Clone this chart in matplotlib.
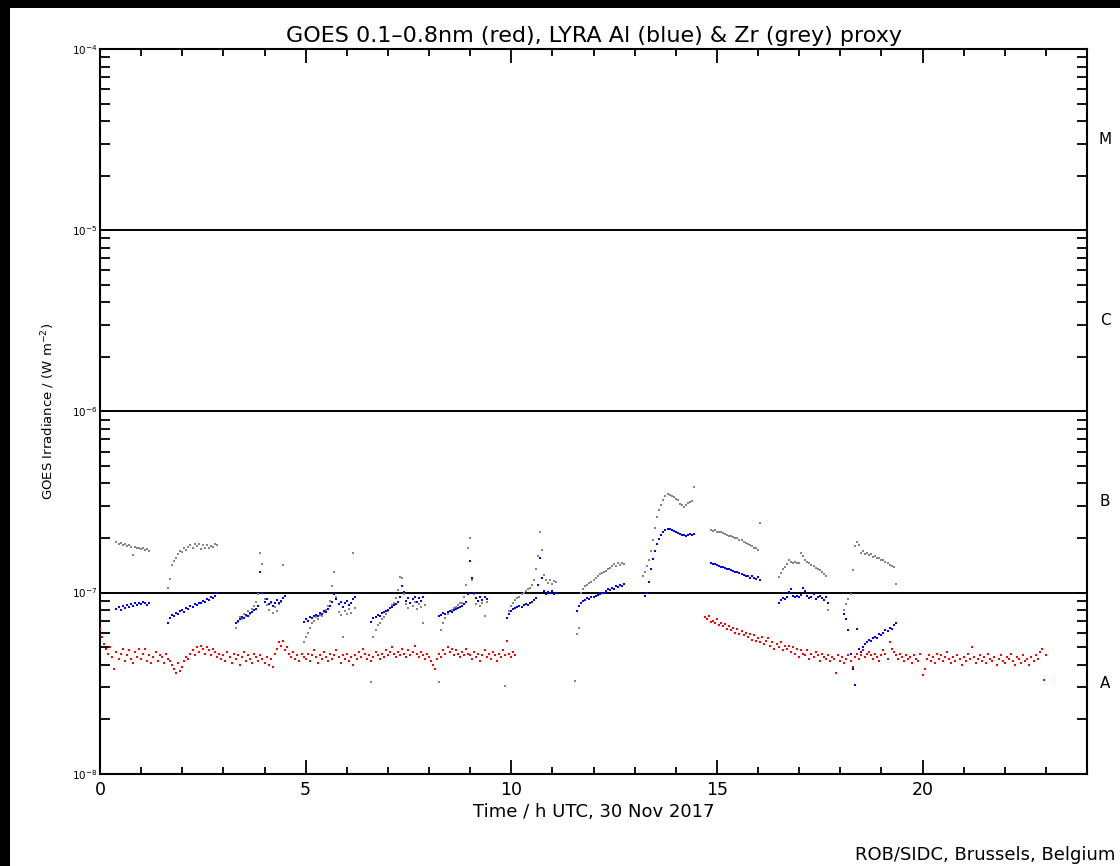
import numpy as np
import matplotlib
matplotlib.use("Agg")
import matplotlib.pyplot as plt
from matplotlib.patches import Rectangle
from matplotlib.ticker import LogLocator, NullFormatter, MultipleLocator

# ---------------- data (irradiance in units of 1e-8 W m^-2) ----------------
STEP = 0.05

# GOES 0.1-0.8 nm (red)
red1_start = 0.00
red1_vals = [
    6.3, 5.7, 5.2, 4.9, 4.6, 5.0, 4.4, 3.8, 4.7, 4.3, 4.6, 4.9, 4.2, 4.5, 4.8, 4.3, 4.1, 4.7, 4.4, 4.9,
    4.3, 4.6, 4.9, 4.2, 4.5, 4.1, 4.4, 4.7, 4.2, 4.5, 4.4, 4.1, 4.6, 4.3, 4.2, 4.0, 3.8, 3.6, 4.1, 3.7,
    3.9, 4.2, 4.4, 4.3, 4.6, 4.8, 4.5, 5.0, 4.7, 5.1, 4.9, 4.6, 5.0, 4.8, 4.5, 4.9, 4.7, 4.4, 4.6, 4.3,
    4.5, 4.2, 4.7, 4.4, 4.1, 4.6, 4.3, 4.5, 4.0, 4.4, 4.7, 4.2, 4.5, 4.3, 4.1, 4.6, 4.4, 4.2, 4.5, 4.3,
    4.1, 4.4, 4.0, 4.3, 3.9, 4.6, 4.9, 5.3, 5.1, 5.4, 4.8, 5.0, 4.6, 4.4, 4.7, 4.3, 4.5, 4.2, 4.6, 4.4,
    4.3, 4.6, 4.2, 4.5, 4.8, 4.4, 4.1, 4.5, 4.3, 4.7, 4.4, 4.2, 4.6, 4.3, 4.5, 4.8, 4.4, 4.1, 4.5, 4.3,
    4.6, 4.2, 4.4, 4.0, 4.5, 4.3, 4.7, 4.4, 4.9, 4.6, 4.3, 4.5, 4.2, 4.4, 4.7, 4.5, 4.3, 4.6, 4.4, 4.8,
    4.5, 4.7, 5.0, 4.6, 4.4, 4.7, 4.5, 4.9, 4.6, 4.4, 4.8, 4.5, 4.7, 5.1, 4.6, 4.4, 4.7, 4.5, 4.3, 4.6,
    4.4, 4.2, 4.0, 3.8, 4.3, 4.6, 4.4, 4.8, 4.6, 5.0, 4.7, 4.9, 4.5, 4.8, 4.6, 4.4, 4.7, 4.5, 4.9, 4.6,
    4.5, 4.3, 4.7, 4.4, 4.6, 4.2, 4.5, 4.8, 4.4, 4.6, 4.3, 4.7, 4.5, 4.2, 4.6, 4.4, 4.8, 4.5, 5.4, 4.6,
    4.4, 4.7, 4.5,
]
red2_start = 14.70
red2_vals = [
    7.3, 7.1, 7.4, 6.9, 7.0, 6.8, 7.1, 6.6, 6.8, 6.5, 6.7, 6.3, 6.5, 6.2, 6.4, 6.0, 6.3, 5.9, 6.1, 5.8,
    6.0, 5.7, 5.9, 5.5, 5.8, 5.4, 5.6, 5.3, 5.7, 5.2, 5.4, 5.6, 5.1, 5.3, 4.9, 5.2, 5.0, 5.3, 4.8, 5.1,
    4.9, 5.1, 4.7, 5.0, 4.6, 4.9, 4.4, 4.8, 4.6, 4.5, 4.8, 4.3, 4.6, 4.4, 4.7, 4.5, 4.2, 4.6, 4.4, 4.3,
    4.5, 4.2, 4.4, 4.3, 3.6, 4.5, 4.2, 4.4, 4.1, 4.3, 4.5, 4.2, 3.9, 4.4, 4.6, 4.3, 4.5, 4.8, 4.4, 4.6,
    4.7, 4.5, 4.3, 4.6, 4.4, 4.2, 4.5, 4.8, 4.6, 4.3, 5.3, 4.9, 4.7, 4.5, 4.3, 4.6, 4.4, 4.2, 4.5, 4.3,
    4.4, 4.1, 4.5, 4.3, 4.2, 4.6, 3.5, 3.8, 4.3, 4.5, 4.2, 4.4, 4.1, 4.6, 4.3, 4.5, 4.2, 4.4, 4.7, 4.3,
    4.1, 4.4, 4.2, 4.5, 4.3, 4.0, 4.4, 4.2, 4.6, 4.3, 5.0, 4.4, 4.1, 4.3, 4.5, 4.2, 4.4, 4.1, 4.6, 4.3,
    4.2, 4.4, 4.0, 4.3, 4.5, 4.2, 4.1, 4.4, 4.3, 4.6, 4.2, 4.0, 4.4, 4.3, 4.1, 4.5, 4.2, 4.3, 4.0, 4.4,
    4.2, 4.5, 4.3, 4.7, 4.9, 3.3, 4.5,
]

# LYRA Al proxy (blue): segment start times and values
blue_starts = [0.40, 1.65, 3.30, 4.95, 6.60, 8.25, 9.90, 11.60, 13.25, 14.85, 16.50, 18.10, 18.40]
blue_vals = [
    [8.1, 8.3, 8.0, 8.4, 8.2, 8.5, 8.3, 8.6, 8.4, 8.7, 8.5, 8.8, 8.6, 8.9, 8.7, 8.5, 8.8],
    [6.8, 7.2, 7.5, 7.4, 7.7, 7.6, 7.9, 8.0, 7.8, 8.2, 8.1, 8.4, 8.3, 8.6, 8.5, 8.8, 8.7, 9.0, 8.9, 9.2,
     9.1, 9.4, 9.3, 9.6, 9.9],
    [6.8, 7.0, 7.1, 7.3, 7.2, 7.5, 7.4, 7.7, 7.8, 8.0, 8.1, 8.4, 12.9, 10.0, 8.9, 9.2, 8.6, 8.9, 8.4, 8.8,
     9.1, 8.7, 9.0, 9.3, 9.6],
    [6.9, 7.1, 7.0, 7.3, 7.2, 7.4, 7.5, 7.4, 7.7, 7.6, 7.9, 7.8, 8.1, 8.4, 8.9, 9.8, 9.2, 8.6, 8.9, 8.3,
     8.7, 9.0, 8.5, 8.8, 9.2, 9.4],
    [6.9, 7.2, 7.3, 7.5, 7.4, 7.7, 7.8, 7.9, 8.0, 8.2, 8.3, 8.5, 8.6, 8.9, 9.5, 10.8, 10.1, 9.0, 9.3, 8.8,
     9.2, 9.5, 8.9, 9.3, 9.0, 9.4],
    [7.4, 7.5, 7.7, 7.6, 7.8, 7.9, 7.8, 8.0, 8.1, 8.2, 8.3, 8.4, 8.6, 8.9, 9.8, 14.9, 12.0, 10.0, 9.3, 9.0,
     9.4, 9.1, 9.5, 9.2],
    [7.2, 7.6, 7.9, 8.1, 8.2, 8.3, 8.4, 8.3, 8.5, 8.6, 8.5, 8.8, 8.9, 9.1, 9.3, 11.0, 15.6, 12.1, 10.2, 9.8,
     10.1, 9.9, 10.2, 9.8, 10.0],
    [7.9, 8.4, 8.8, 9.0, 9.1, 9.3, 9.2, 9.4, 9.5, 9.6, 9.7, 9.8, 9.9, 10.0, 10.2, 10.4, 10.3, 10.6, 10.5, 10.8,
     10.7, 11.0, 10.9, 11.2],
    [9.6, 9.9, 11.5, 13.5, 15.3, 17.0, 18.6, 19.8, 20.8, 21.5, 22.1, 22.4, 22.5, 22.2, 21.9, 21.6, 21.3, 21.0,
     20.7, 20.9, 20.6, 20.8, 21.0, 20.7, 21.1],
    [14.6, 14.4, 14.3, 14.2, 14.0, 13.9, 13.8, 13.6, 13.5, 13.4, 13.3, 13.1, 13.0, 12.9, 12.8, 12.6, 12.5,
     12.4, 12.3, 12.1, 12.3, 12.0, 11.9, 12.2, 11.8],
    [8.8, 9.1, 9.3, 9.2, 9.4, 10.1, 10.4, 9.6, 9.5, 9.6, 9.5, 9.7, 10.6, 10.2, 9.6, 9.3, 9.5, 9.8, 9.2, 9.4,
     9.6, 9.3, 9.1, 9.4, 8.7],
    [7.6, 7.1, 6.2, 4.6, 3.8, 3.1],
    [6.3, 4.9, 4.7, 5.0, 5.2, 5.3, 5.5, 5.4, 5.6, 5.7, 5.6, 5.9, 5.8, 6.0, 6.2, 6.1, 6.4, 6.3, 6.6, 6.8],
]

# LYRA Zr proxy (grey): segment start times and values
grey_starts = [0.40, 1.65, 3.30, 4.95, 6.60, 8.25, 9.85, 11.55, 13.20, 14.85, 16.50, 18.10]
grey_vals = [
    [19.0, 18.6, 18.8, 18.3, 18.5, 18.1, 18.4, 17.9, 16.2, 17.8, 17.5, 17.7, 17.3, 17.6, 17.1, 17.4, 17.0],
    [10.6, 11.9, 14.2, 15.0, 15.6, 16.3, 17.0, 16.8, 17.5, 17.2, 17.9, 18.3, 17.6, 18.5, 18.0, 18.6, 17.4,
     18.2, 17.7, 18.4, 17.5, 18.0, 17.8, 18.5, 18.3],
    [6.4, 6.9, 7.3, 7.1, 7.6, 7.4, 7.9, 7.6, 8.1, 8.4, 8.9, 9.8, 16.6, 14.3, 9.2, 8.5, 8.0, 8.8, 7.7, 8.3,
     7.9, 8.6, 8.9, 14.2, 9.6],
    [5.3, 5.7, 6.0, 6.4, 6.8, 7.0, 7.3, 7.1, 7.5, 7.4, 7.8, 8.0, 8.4, 9.0, 10.9, 13.0, 9.5, 7.8, 7.5, 5.7,
     7.9, 7.6, 8.1, 7.7, 16.6, 8.2],
    [3.2, 5.7, 6.2, 6.6, 6.8, 7.1, 7.3, 7.6, 7.9, 8.2, 8.5, 8.8, 9.3, 10.3, 12.2, 12.0, 9.8, 8.6, 8.2, 8.8,
     8.4, 8.9, 8.1, 8.6, 8.3, 6.8, 8.5],
    [3.2, 6.2, 6.8, 7.2, 7.6, 7.9, 8.0, 8.2, 8.3, 8.5, 8.7, 8.8, 9.5, 11.0, 17.5, 20.0, 11.8, 9.8, 8.6, 9.0,
     8.4, 8.8, 7.4, 8.9],
    [3.05, 7.2, 7.9, 8.4, 8.8, 9.1, 9.3, 9.5, 9.8, 10.0, 10.2, 10.4, 10.6, 11.0, 11.8, 13.5, 16.0, 21.7,
     17.2, 12.5, 11.8, 11.3, 11.7, 11.2, 11.6, 11.4],
    [3.25, 5.9, 6.4, 10.0, 10.4, 10.8, 11.0, 11.3, 11.5, 11.8, 12.0, 12.3, 12.6, 12.8, 12.9, 13.1, 13.4,
     13.6, 14.0, 14.3, 14.0, 14.6, 14.2, 14.5, 14.3],
    [12.4, 13.0, 14.0, 15.1, 17.0, 19.6, 22.8, 26.2, 28.5, 30.4, 32.5, 34.0, 34.8, 34.6, 34.3, 33.6, 33.0,
     32.4, 31.0, 30.4, 29.8, 30.5, 31.2, 31.7, 32.2, 38.4],
    [22.2, 21.9, 22.0, 21.7, 21.5, 21.6, 21.2, 21.0, 20.8, 20.6, 20.4, 20.2, 20.1, 19.9, 19.6, 19.4, 19.1,
     18.8, 18.6, 18.3, 18.0, 17.7, 17.5, 17.2, 24.3],
    [12.2, 12.8, 13.4, 13.9, 14.3, 15.1, 14.8, 14.6, 14.7, 14.5, 14.6, 16.6, 16.0, 15.2, 14.8, 14.5, 14.2,
     14.0, 13.7, 13.5, 13.3, 13.0, 12.6, 12.4, 8.0],
    [8.0, 8.6, 9.2, 9.8, 13.3, 18.0, 19.0, 18.2, 16.6, 17.0, 16.4, 16.6, 16.1, 16.3, 15.8, 15.9, 15.5, 15.6,
     15.1, 15.2, 14.7, 14.5, 14.2, 14.0, 13.9, 11.1],
]

flare_classes = ["M", "C", "B", "A"]
class_levels = [10 ** -4.5, 10 ** -5.5, 10 ** -6.5, 10 ** -7.5]
threshold_levels = [1e-5, 1e-6, 1e-7]
ytick_vals = [1e-8, 1e-7, 1e-6, 1e-5, 1e-4]
ytick_labels = [r"$10^{-8}$", r"$10^{-7}$", r"$10^{-6}$", r"$10^{-5}$", r"$10^{-4}$"]
xtick_vals = [0, 5, 10, 15, 20]
UNIT = 1e-8


def series(start, vals):
    v = np.asarray(vals, dtype=float) * UNIT
    t = start + STEP * np.arange(len(v))
    return t, v


# ---------------- figure ----------------
W, H = 1120, 866
fig = plt.figure(figsize=(W / 100, H / 100), dpi=100, facecolor="white")
fig.patches.append(Rectangle((0, 1 - 8 / H), 1, 8 / H, transform=fig.transFigure,
                             facecolor="black", edgecolor="none", zorder=0))
fig.patches.append(Rectangle((0, 0), 10 / W, 1, transform=fig.transFigure,
                             facecolor="black", edgecolor="none", zorder=0))

x0, x1 = 100, 1087
y0, y1 = 773.7, 49
ax = fig.add_axes([x0 / W, 1 - y0 / H, (x1 - x0) / W, (y0 - y1) / H])
ax.set_yscale("log")
ax.set_xlim(0, 24)
ax.set_ylim(1e-8, 1e-4)

for lv in threshold_levels:
    ax.axhline(lv, color="black", lw=1.4, zorder=1)

ms = 2.1
for s, vals in zip(grey_starts, grey_vals):
    t, v = series(s, vals)
    ax.plot(t, v, ls="none", marker="s", ms=1.7, mew=0, color="#858585", zorder=2)
for s, vals in zip(blue_starts, blue_vals):
    t, v = series(s, vals)
    ax.plot(t, v, ls="none", marker="s", ms=ms, mew=0, color="#0000ff", zorder=3)
for s, vals in [(red1_start, red1_vals), (red2_start, red2_vals)]:
    t, v = series(s, vals)
    ax.plot(t, v, ls="none", marker="s", ms=ms, mew=0, color="#ff0000", zorder=4)

for sp in ax.spines.values():
    sp.set_linewidth(1.5)

ax.set_xticks(xtick_vals)
ax.set_xticklabels([str(v) for v in xtick_vals], fontsize=12.5)
ax.xaxis.set_minor_locator(MultipleLocator(1))
ax.set_yticks(ytick_vals)
ax.set_yticklabels(ytick_labels, fontsize=7.5)
ax.yaxis.set_minor_locator(LogLocator(base=10, subs=np.arange(2, 10)))
ax.yaxis.set_minor_formatter(NullFormatter())
ax.tick_params(axis="x", which="major", direction="in", length=10, width=1.3,
               top=True, bottom=True, pad=5)
ax.tick_params(axis="x", which="minor", direction="in", length=5, width=1.3,
               top=True, bottom=True)
ax.tick_params(axis="y", which="major", direction="in", length=7, width=1.3,
               left=True, right=True, pad=2)
ax.tick_params(axis="y", which="minor", direction="in", length=7, width=1.3,
               left=True, right=True)

for lab, lv in zip(flare_classes, class_levels):
    ax.text(1.0 + 18 / (x1 - x0), lv, lab, transform=ax.get_yaxis_transform(),
            ha="center", va="center", fontsize=11)

fig.text((x0 + x1) / 2 / W, 1 - 36 / H,
         "GOES 0.1\u20130.8nm (red), LYRA Al (blue) & Zr (grey) proxy",
         ha="center", va="center", fontsize=16)
fig.text((x0 + x1) / 2 / W, 1 - 812 / H, "Time / h UTC, 30 Nov 2017",
         ha="center", va="center", fontsize=13)
fig.text(48 / W, 1 - 411 / H, r"GOES Irradiance / (W m$^{-2}$)",
         ha="center", va="center", rotation=90, fontsize=9.5)
fig.text(1115 / W, 1 - 855 / H, "ROB/SIDC, Brussels, Belgium",
         ha="right", va="center", fontsize=13)

fig.savefig("out.png", dpi=100, facecolor="white")
